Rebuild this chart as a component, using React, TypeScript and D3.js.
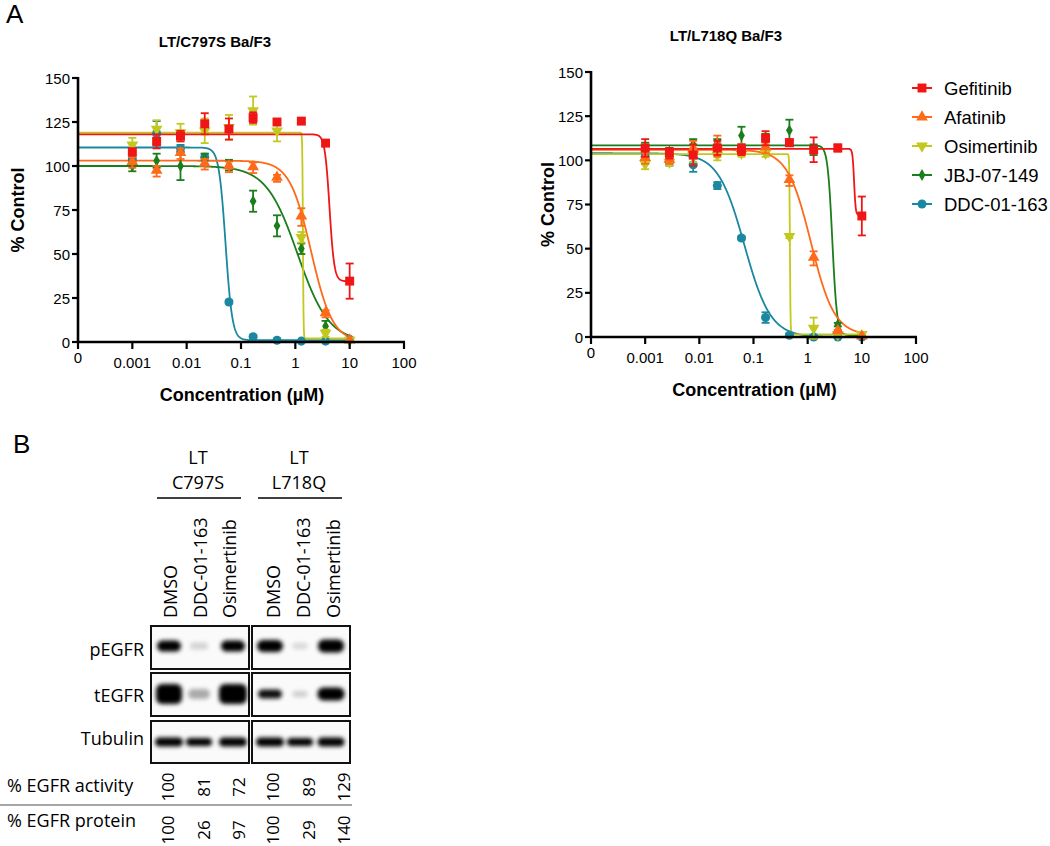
import React from "react";
import * as d3 from "d3";

// ---------- Data (panel A) ----------
const concentrations = [0.001, 0.0028, 0.0077, 0.0215, 0.06, 0.167, 0.46, 1.29, 3.6, 10];
const drugs = ["Gefitinib", "Afatinib", "Osimertinib", "JBJ-07-149", "DDC-01-163"];
const drugColors = ["#f01616", "#ff6a1a", "#c2c91e", "#1b7d1b", "#1a88a0"];
const drugSymbols = ["square", "triangle", "triangleDown", "diamond", "circle"];
const xTickValues = [0.0001, 0.001, 0.01, 0.1, 1, 10, 100];
const xTickLabels = ["0", "0.001", "0.01", "0.1", "1", "10", "100"];
const yTickValues = [0, 25, 50, 75, 100, 125, 150];

// LT/C797S Ba/F3 (mean, error)
const c797sGefitinib = [108, 114, 117, 124, 121, 127.5, 125, 125.5, 113, 34.6];
const c797sGefitinibErr = [2, 4, 3, 6, 6, 3, 0, 1, 0, 10];
const c797sAfatinib = [102, 97, 107, 101, 99.5, 99, 93, 71, 16, 0.5];
const c797sAfatinibErr = [3, 3, 3, 3, 3, 3, 2, 5, 2, 0];
const c797sOsimertinib = [112, 121, 119, 120, 122, 131.5, 120, 59.5, 5, 1];
const c797sOsimertinibErr = [4, 5, 5, 7, 7, 8, 6, 3, 2, 0];
const c797sJBJ = [100, 103, 100, 104, 100.5, 80, 66, 53, 9, 1];
const c797sJBJErr = [3, 4, 8, 3, 3, 6, 6, 3, 3, 0];
const c797sDDC = [104, 118.5, 110, 105, 22.7, 3, 1, 0.5, 0.5, 1.5];
const c797sDDCErr = [2, 7, 2, 2, 1, 1, 1, 0, 0, 0];
// fitted 4PL parameters: [top, bottom, IC50 (µM), Hill slope]
const c797sFitTop = [118, 103, 119, 100, 110.5];
const c797sFitBottom = [34.5, 0, 2, 0, 1];
const c797sFitIC50 = [4.26, 1.95, 1.38, 1.1, 0.052];
const c797sFitHill = [10, 2.2, 80, 1.5, 7];

// LT/L718Q Ba/F3
const l718qGefitinib = [107, 104, 103, 107, 106, 112.5, 110, 106, 107, 68.5];
const l718qGefitinibErr = [5, 3, 6, 4, 3, 4, 2, 7, 2, 11];
const l718qAfatinib = [101, 100, 106, 108, 106, 107, 88.5, 44.5, 3, 0];
const l718qAfatinibErr = [3, 2, 5, 6, 3, 3, 3, 4, 1, 0];
const l718qOsimertinib = [98, 99, 103, 103, 104, 104, 57, 5, 1.5, 1.5];
const l718qOsimertinibErr = [3, 2, 4, 3, 2, 2, 1, 6, 1, 1];
const l718qJBJ = [107, 105, 109, 110, 114, 111, 117, 106, 7, 0.5];
const l718qJBJErr = [3, 2, 3, 2, 5, 4, 6, 3, 1, 0];
const l718qDDC = [102, 99, 97.5, 85.7, 56, 11, 1, 0, 0, 0];
const l718qDDCErr = [4, 2, 4, 2, 1, 3, 1, 1, 0, 0];
const l718qFitTop = [106.5, 106, 103.5, 108.5, 104];
const l718qFitBottom = [69, 1, 1.5, 1, 0];
const l718qFitIC50 = [7.2, 1.15, 0.47, 2.85, 0.068];
const l718qFitHill = [30, 2, 80, 10, 1.8];

// ---------- Data (panel B) ----------
const blotGroups = ["C797S", "L718Q"];
const blotLanes = ["DMSO", "DDC-01-163", "Osimertinib"];
const blotRows = ["pEGFR", "tEGFR", "Tubulin"];
// band [width, height, intensity] per row, per group, per lane
const bandPEGFR = [[[24, 11, 1], [18, 7, 0.16], [24, 11, 1]], [[26, 12, 1], [15, 6, 0.14], [26, 13, 1]]];
const bandTEGFR = [[[26, 20, 1], [22, 10, 0.32], [28, 20, 1]], [[24, 9, 0.95], [15, 6, 0.18], [27, 13, 1]]];
const bandTubulin = [[[28, 9, 1], [26, 8, 1], [28, 9, 1]], [[28, 9, 1], [26, 8, 1], [27, 9, 1]]];
const egfrActivity = ["100", "81", "72", "100", "89", "129"];
const egfrProtein = ["100", "26", "97", "100", "29", "140"];

const ARIAL = "Liberation Sans, Arial, sans-serif";
const SANS = "Open Sans, Noto Sans, sans-serif";

function symbolPath(kind: string) {
  switch (kind) {
    case "square": return d3.symbol(d3.symbolSquare, 80)();
    case "triangle": return d3.symbol(d3.symbolTriangle, 60)();
    case "triangleDown": return d3.symbol(d3.symbolTriangle, 60)();
    case "diamond": return d3.symbol(d3.symbolDiamond, 40)();
    default: return d3.symbol(d3.symbolCircle, 64)();
  }
}

type Series = { values: number[]; errs: number[] };

function DoseChart(props: {
  x0: number; x1: number; yTop: number; yBottom: number;
  title: string; titleX: number; titleY: number;
  series: Series[]; top: number[]; bottom: number[]; ic50: number[]; hill: number[];
  ylabelX: number; xlabelY: number;
}) {
  const { x0, x1, yTop, yBottom } = props;
  const x = d3.scaleLog().domain([0.0001, 100]).range([x0, x1]);
  const y = d3.scaleLinear().domain([0, 150]).range([yBottom, yTop]);
  const curveXs = d3.range(0, 801).map((i) => Math.pow(10, -4 + (5 * i) / 800));
  const order = [4, 3, 2, 1, 0];
  const line = d3.line<[number, number]>().x((d) => x(d[0])).y((d) => y(d[1]));
  return (
    <g>
      <text x={props.titleX} y={props.titleY} textAnchor="middle" fontFamily={ARIAL} fontWeight="bold" fontSize={15}>{props.title}</text>
      {order.map((k) => {
        const pts: [number, number][] = curveXs.map((c) => [c, props.bottom[k] + (props.top[k] - props.bottom[k]) / (1 + Math.pow(c / props.ic50[k], props.hill[k]))]);
        return <path key={"c" + k} d={line(pts) || ""} fill="none" stroke={drugColors[k]} strokeWidth={1.8} />;
      })}
      {order.map((k) => (
        <g key={"p" + k} fill={drugColors[k]} stroke={drugColors[k]}>
          {props.series[k].values.map((v, i) => {
            const cx = x(concentrations[i]);
            const e = props.series[k].errs[i];
            const cy = y(v);
            return (
              <g key={i}>
                {e > 0 && (
                  <g strokeWidth={1.8}>
                    <line x1={cx} x2={cx} y1={y(v + e)} y2={y(v - e)} />
                    <line x1={cx - 4} x2={cx + 4} y1={y(v + e)} y2={y(v + e)} />
                    <line x1={cx - 4} x2={cx + 4} y1={y(v - e)} y2={y(v - e)} />
                  </g>
                )}
                <path d={symbolPath(drugSymbols[k]) || ""} transform={`translate(${cx},${cy})${drugSymbols[k] === "triangleDown" ? " rotate(180)" : ""}${drugSymbols[k] === "triangle" ? " translate(0,-1)" : ""}`} stroke="none" />
              </g>
            );
          })}
        </g>
      ))}
      <line x1={x0} x2={x0} y1={yTop - 1} y2={yBottom + 1} stroke="#000" strokeWidth={2.6} />
      <line x1={x0 - 1} x2={x1 + 1} y1={yBottom} y2={yBottom} stroke="#000" strokeWidth={2.6} />
      {yTickValues.map((t) => (
        <g key={"y" + t}>
          <line x1={x0 - 6} x2={x0} y1={y(t)} y2={y(t)} stroke="#000" strokeWidth={2.2} />
          <text x={x0 - 8} y={y(t) + 5.5} textAnchor="end" fontFamily={ARIAL} fontSize={15}>{t}</text>
        </g>
      ))}
      {xTickValues.map((t, i) => (
        <g key={"x" + t}>
          <line x1={x(t)} x2={x(t)} y1={yBottom} y2={yBottom + 7} stroke="#000" strokeWidth={2.2} />
          <text x={x(t)} y={yBottom + (i === 0 ? 21 : 26)} textAnchor="middle" fontFamily={ARIAL} fontSize={15}>{xTickLabels[i]}</text>
        </g>
      ))}
      <text x={(x0 + x(100)) / 2 + 1} y={props.xlabelY} textAnchor="middle" fontFamily={ARIAL} fontWeight="bold" fontSize={18}>Concentration (µM)</text>
      <text transform={`translate(${props.ylabelX},${(yTop + yBottom) / 2}) rotate(-90)`} textAnchor="middle" fontFamily={ARIAL} fontWeight="bold" fontSize={18}>% Control</text>
    </g>
  );
}

function Legend() {
  return (
    <g>
      {drugs.map((d, i) => {
        const cy = 88 + i * 29;
        return (
          <g key={d}>
            <line x1={912} x2={932} y1={cy} y2={cy} stroke={drugColors[i]} strokeWidth={2} />
            <path d={symbolPath(drugSymbols[i]) || ""} transform={`translate(922,${cy})${drugSymbols[i] === "triangleDown" ? " rotate(180)" : ""}`} fill={drugColors[i]} />
            <text x={944} y={cy + 6.5} fontFamily={ARIAL} fontSize={18.5}>{d}</text>
          </g>
        );
      })}
    </g>
  );
}

function Blot() {
  const boxX = [[151, 249], [252, 350]];
  const laneX = [[169, 199, 233], [270, 300, 331]];
  const labelX = [[170, 200, 229], [273, 303, 333]];
  const rowY = [[626, 669], [673, 716], [721, 763]];
  const rowBandY = [646, 694, 742];
  const rowLabelY = [656, 702, 745];
  const bands = [bandPEGFR, bandTEGFR, bandTubulin];
  const numX = [167, 203, 238, 272, 308, 343];
  return (
    <g>
      <defs>
        <filter id="blur" x="-50%" y="-80%" width="200%" height="260%">
          <feGaussianBlur stdDeviation="1.9" />
        </filter>
      </defs>
      <text x={13} y={453} fontFamily={ARIAL} fontSize={26}>B</text>
      {blotGroups.map((g, gi) => {
        const cx = (boxX[gi][0] + boxX[gi][1]) / 2 - 2;
        return (
          <g key={g}>
            <text x={cx} y={464} textAnchor="middle" fontFamily={SANS} fontSize={18}>LT</text>
            <text x={cx} y={489} textAnchor="middle" fontFamily={SANS} fontSize={18}>{g}</text>
            <line x1={boxX[gi][0] + 6} x2={boxX[gi][1] - 8} y1={498} y2={498} stroke="#000" strokeWidth={1.5} />
            {blotLanes.map((l, li) => (
              <text key={l} transform={`translate(${labelX[gi][li]},618) rotate(-90)`} dominantBaseline="central" fontFamily={SANS} fontSize={18}>{l}</text>
            ))}
          </g>
        );
      })}
      {blotRows.map((r, ri) => (
        <g key={r}>
          <text x={144} y={rowLabelY[ri]} textAnchor="end" fontFamily={SANS} fontSize={18}>{r}</text>
          {blotGroups.map((g, gi) => (
            <g key={g}>
              <rect x={boxX[gi][0]} y={rowY[ri][0]} width={boxX[gi][1] - boxX[gi][0]} height={rowY[ri][1] - rowY[ri][0]} fill="#fafafa" stroke="#111" strokeWidth={2} />
              <g filter="url(#blur)">
                {bands[ri][gi].map((b, li) => (
                  <rect key={li} x={laneX[gi][li] - b[0] / 2} y={rowBandY[ri] - b[1] / 2} width={b[0]} height={b[1]} rx={Math.min(b[1] / 2, 6)} fill="#000" fillOpacity={b[2]} />
                ))}
              </g>
            </g>
          ))}
        </g>
      ))}
      <text x={7} y={792} fontFamily={SANS} fontSize={18}>% EGFR activity</text>
      <line x1={0} x2={352} y1={805} y2={805} stroke="#888" strokeWidth={1.5} />
      <text x={7} y={827} fontFamily={SANS} fontSize={18}>% EGFR protein</text>
      {egfrActivity.map((v, i) => (
        <text key={"a" + i} transform={`translate(${numX[i]},787) rotate(-90)`} textAnchor="middle" dominantBaseline="central" fontFamily={SANS} fontSize={17}>{v}</text>
      ))}
      {egfrProtein.map((v, i) => (
        <text key={"p" + i} transform={`translate(${numX[i]},830) rotate(-90)`} textAnchor="middle" dominantBaseline="central" fontFamily={SANS} fontSize={17}>{v}</text>
      ))}
    </g>
  );
}

export default function App() {
  const c797sSeries: Series[] = [
    { values: c797sGefitinib, errs: c797sGefitinibErr },
    { values: c797sAfatinib, errs: c797sAfatinibErr },
    { values: c797sOsimertinib, errs: c797sOsimertinibErr },
    { values: c797sJBJ, errs: c797sJBJErr },
    { values: c797sDDC, errs: c797sDDCErr },
  ];
  const l718qSeries: Series[] = [
    { values: l718qGefitinib, errs: l718qGefitinibErr },
    { values: l718qAfatinib, errs: l718qAfatinibErr },
    { values: l718qOsimertinib, errs: l718qOsimertinibErr },
    { values: l718qJBJ, errs: l718qJBJErr },
    { values: l718qDDC, errs: l718qDDCErr },
  ];
  return (
    <svg width={1050} height={846} style={{ position: "absolute", left: 0, top: 0, background: "#fff" }}>
      <rect width={1050} height={846} fill="#fff" />
      <text x={6} y={23} fontFamily={ARIAL} fontSize={26}>A</text>
      <DoseChart x0={78} x1={404} yTop={78} yBottom={342} title="LT/C797S Ba/F3" titleX={215} titleY={47}
        series={c797sSeries} top={c797sFitTop} bottom={c797sFitBottom} ic50={c797sFitIC50} hill={c797sFitHill}
        ylabelX={24} xlabelY={401} />
      <DoseChart x0={591} x1={916} yTop={72} yBottom={337} title="LT/L718Q Ba/F3" titleX={726} titleY={41}
        series={l718qSeries} top={l718qFitTop} bottom={l718qFitBottom} ic50={l718qFitIC50} hill={l718qFitHill}
        ylabelX={554} xlabelY={396} />
      <Legend />
      <Blot />
    </svg>
  );
}
